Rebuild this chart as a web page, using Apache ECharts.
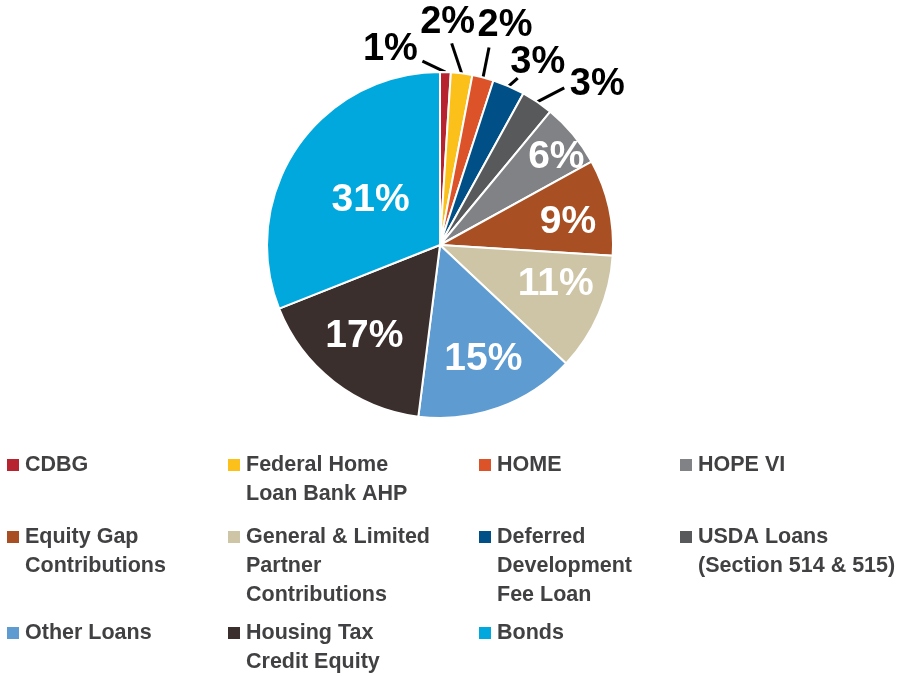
<!DOCTYPE html>
<html>
<head>
<meta charset="utf-8">
<script src="https://cdn.jsdelivr.net/npm/echarts@6/dist/echarts.min.js"></script>
<style>
  html, body { margin: 0; padding: 0; background: #fff; }
  #main { width: 911px; height: 676px; }
</style>
</head>
<body>
<div id="main"></div>
<script>
// slices, clockwise from 12 o'clock
const categories = [
  "CDBG", "Federal Home Loan Bank AHP", "HOME", "Deferred Development Fee Loan",
  "USDA Loans (Section 514 & 515)", "HOPE VI", "Equity Gap Contributions",
  "General & Limited Partner Contributions", "Other Loans", "Housing Tax Credit Equity", "Bonds"
];
const values = [1, 2, 2, 3, 3, 6, 9, 11, 15, 17, 31];
const colors = ["#b7242f", "#fcc01a", "#dc5329", "#004f86", "#58595b", "#818285",
  "#a84f23", "#cdc5a6", "#5d9bd1", "#3a2f2c", "#00a8dd"];

// legend text, line-wrapped as in the figure, in legend order (row by row)
const legendOrder = [0, 1, 2, 5, 6, 7, 3, 4, 8, 9, 10];
const legendText = {
  "CDBG": ["CDBG"],
  "Federal Home Loan Bank AHP": ["Federal Home", "Loan Bank AHP"],
  "HOME": ["HOME"],
  "HOPE VI": ["HOPE VI"],
  "Equity Gap Contributions": ["Equity Gap", "Contributions"],
  "General & Limited Partner Contributions": ["General & Limited", "Partner", "Contributions"],
  "Deferred Development Fee Loan": ["Deferred", "Development", "Fee Loan"],
  "USDA Loans (Section 514 & 515)": ["USDA Loans", "(Section 514 & 515)"],
  "Other Loans": ["Other Loans"],
  "Housing Tax Credit Equity": ["Housing Tax", "Credit Equity"],
  "Bonds": ["Bonds"]
};

const bigMin = 6; // slices labelled inside
const colLeft = [5, 226, 477, 678];
const rowMid = [465, 537, 633];
const lh = 29;

// outside label leader lines: [line end from slice edge], [label centre from line end]
const leader = {
  "CDBG": [[-23, -11], [-32, -12]],
  "Federal Home Loan Bank AHP": [[-10, -30], [-4, -21]],
  "HOME": [[6, -30], [16, -22]],
  "Deferred Development Fee Loan": [[9, -8], [20, -16]],
  "USDA Loans (Section 514 & 515)": [[27, -14], [33, -3]]
};
// nudges for inside labels
const insideOffset = {
  "HOPE VI": [20, -8], "Equity Gap Contributions": [6, 5], "General & Limited Partner Contributions": [1, -10],
  "Other Loans": [1, -3], "Housing Tax Credit Equity": [1, -8], "Bonds": [34, 26]
};

const chart = echarts.init(document.getElementById("main"), null, { renderer: "canvas" });

const legends = legendOrder.map((idx, k) => {
  const name = categories[idx];
  const n = legendText[name].length;
  // blank lines in front keep the swatch level with the first line
  const pad = new Array(n - 1).fill(" ");
  return {
    data: [{ name: name, icon: "rect" }],
    orient: "vertical",
    left: colLeft[k % 4],
    top: rowMid[Math.floor(k / 4)] - (2 * n - 1) * lh / 2,
    padding: 0,
    itemWidth: 14,
    itemHeight: 14,
    selectedMode: false,
    formatter: (nm) => pad.concat(legendText[nm]).join("\n"),
    textStyle: {
      fontFamily: "Liberation Sans",
      fontWeight: "bold",
      fontSize: 21.5,
      color: "#414042",
      lineHeight: lh
    }
  };
});

const option = {
  backgroundColor: "#fff",
  animation: false,
  legend: legends,
  series: [
    {
      type: "pie",
      center: [440, 245],
      radius: [0, 173],
      startAngle: 90,
      avoidLabelOverlap: false,
      itemStyle: { borderColor: "#fff", borderWidth: 2 },
      emphasis: { disabled: true },
      data: categories.map((c, i) => ({
        name: c,
        value: values[i],
        itemStyle: { color: colors[i] },
        label: { show: values[i] < bigMin },
        labelLine: { show: values[i] < bigMin }
      })),
      label: {
        position: "outside",
        formatter: "{c}%",
        fontFamily: "Liberation Sans",
        fontWeight: "bold",
        fontSize: 38,
        color: "#000"
      },
      labelLine: { length: 12, length2: 6, lineStyle: { color: "#000", width: 3 } },
      labelLayout: function (params) {
        const l = leader[categories[params.dataIndex]];
        if (!l || !params.labelLinePoints) return {};
        const p0 = params.labelLinePoints[0];
        const end = [p0[0] + l[0][0], p0[1] + l[0][1]];
        return {
          x: end[0] + l[1][0],
          y: end[1] + l[1][1],
          align: "center",
          verticalAlign: "middle",
          labelLinePoints: [p0, end, end]
        };
      }
    },
    {
      // label-only ring so the inside percentages sit further out
      type: "pie",
      center: [440, 245],
      radius: [0, 244],
      startAngle: 90,
      silent: true,
      itemStyle: { color: "rgba(0,0,0,0)" },
      emphasis: { disabled: true },
      data: categories.map((c, i) => ({
        name: c,
        value: values[i],
        label: { show: values[i] >= bigMin, offset: insideOffset[c] || [0, 0] }
      })),
      label: {
        position: "inside",
        formatter: "{c}%",
        fontFamily: "Liberation Sans",
        fontWeight: "bold",
        fontSize: 39,
        color: "#fff"
      },
      labelLine: { show: false }
    }
  ]
};

chart.setOption(option);
</script>
</body>
</html>
